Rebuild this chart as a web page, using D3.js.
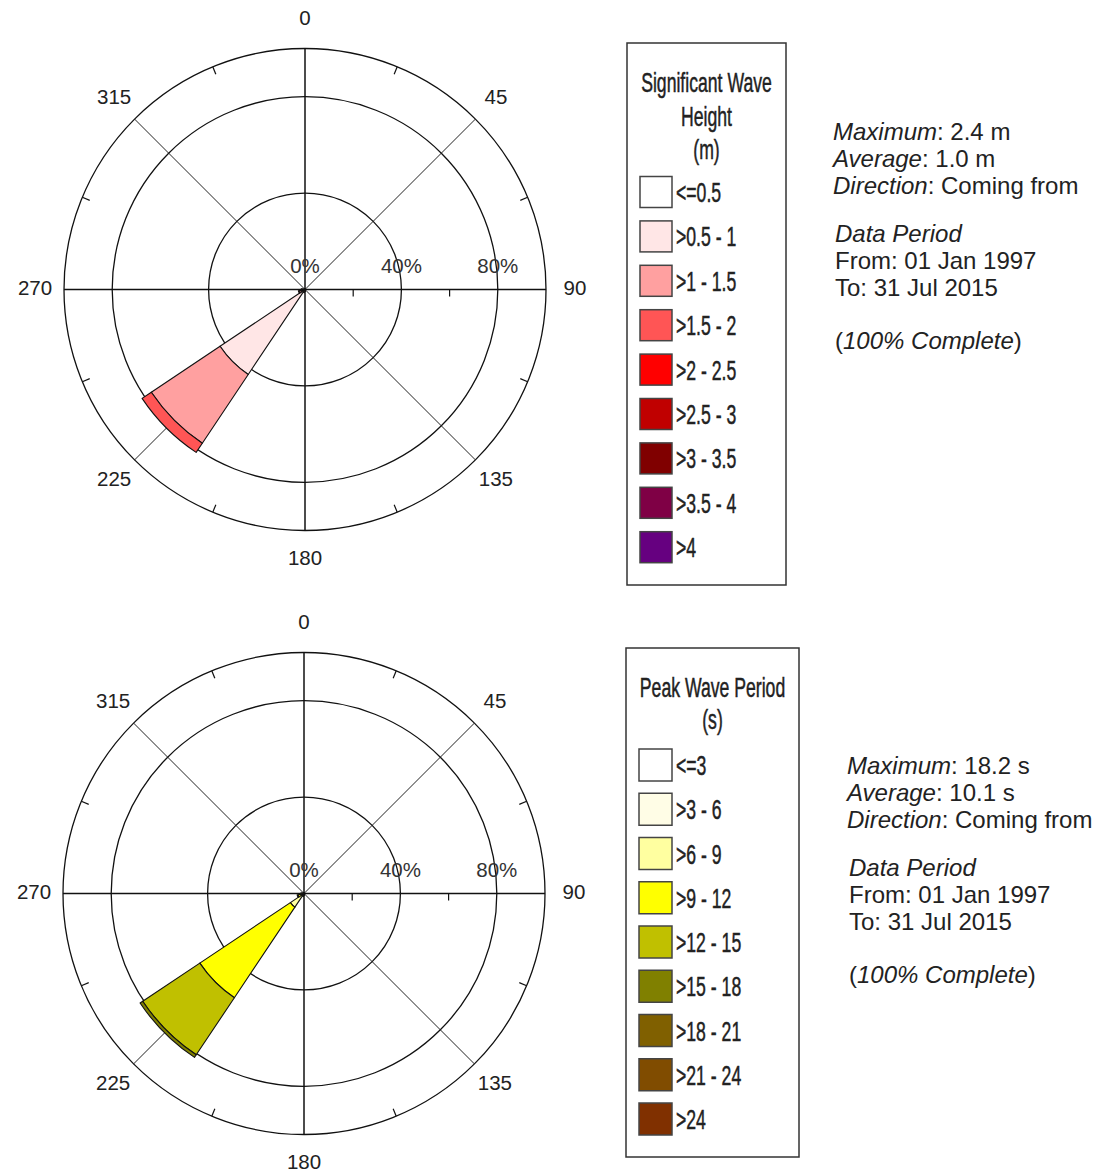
<!DOCTYPE html>
<html>
<head>
<meta charset="utf-8">
<script src="https://cdn.jsdelivr.net/npm/d3@7"></script>
<style>
  html, body { margin: 0; padding: 0; background: #fff; }
  svg { display: block; }
</style>
</head>
<body>
<svg id="chart" width="1099" height="1175"></svg>
<script>
// ---------------- DATA ----------------
const directions = [0, 22.5, 45, 67.5, 90, 112.5, 135, 157.5, 180, 202.5, 225, 247.5, 270, 292.5, 315, 337.5];
const angleLabels = [0, 45, 90, 135, 180, 225, 270, 315];
const ringLabels = [0, 40, 80];

// Significant wave height classes (percent of time per direction)
const hsClasses = ["<=0.5", ">0.5 - 1", ">1 - 1.5", ">1.5 - 2", ">2 - 2.5", ">2.5 - 3", ">3 - 3.5", ">3.5 - 4", ">4"];
const hsColors  = ["#ffffff", "#ffe6e6", "#ffa0a0", "#ff5555", "#ff0000", "#c00000", "#800000", "#7f0045", "#660080"];
const hsLe05   = [0.1, 0, 0, 0, 0.1, 0, 0.1, 0.1, 0.2, 0.2, 0.2, 0.3, 0.3, 0.2, 0.1, 0.1];
const hs05to1  = [0.2, 0, 0, 0, 0.2, 0, 0.2, 0.3, 0.5, 0.8, 42.2, 1.5, 1.0, 0.3, 0.2, 0.1];
const hs1to15  = [0, 0, 0, 0, 0, 0, 0, 0, 0.1, 0.4, 34.3, 0.8, 0.3, 0, 0, 0];
const hs15to2  = [0, 0, 0, 0, 0, 0, 0, 0, 0, 0, 4.6, 0.2, 0, 0, 0, 0];
const hs2to25  = [0, 0, 0, 0, 0, 0, 0, 0, 0, 0, 0, 0, 0, 0, 0, 0];
const hs25to3  = [0, 0, 0, 0, 0, 0, 0, 0, 0, 0, 0, 0, 0, 0, 0, 0];
const hs3to35  = [0, 0, 0, 0, 0, 0, 0, 0, 0, 0, 0, 0, 0, 0, 0, 0];
const hs35to4  = [0, 0, 0, 0, 0, 0, 0, 0, 0, 0, 0, 0, 0, 0, 0, 0];
const hsGt4    = [0, 0, 0, 0, 0, 0, 0, 0, 0, 0, 0, 0, 0, 0, 0, 0];

// Peak wave period classes
const tpClasses = ["<=3", ">3 - 6", ">6 - 9", ">9 - 12", ">12 - 15", ">15 - 18", ">18 - 21", ">21 - 24", ">24"];
const tpColors  = ["#ffffff", "#fffde6", "#ffffa0", "#ffff00", "#c0c000", "#808000", "#806000", "#804c00", "#803000"];
const tpLe3    = [0, 0, 0, 0, 0, 0, 0, 0, 0, 0, 0, 0, 0, 0, 0, 0];
const tp3to6   = [0.1, 0, 0, 0, 0.1, 0, 0.1, 0.2, 0.2, 0.2, 0.3, 0.3, 0.3, 0.2, 0.1, 0.1];
const tp6to9   = [0.1, 0, 0, 0, 0.2, 0, 0.2, 0.3, 0.4, 0.5, 6.5, 1.0, 0.8, 0.3, 0.2, 0.1];
const tp9to12  = [0, 0, 0, 0, 0, 0, 0, 0, 0.1, 0.6, 45.2, 1.2, 0.2, 0, 0, 0];
const tp12to15 = [0, 0, 0, 0, 0, 0, 0, 0, 0, 0, 28.5, 0.4, 0, 0, 0, 0];
const tp15to18 = [0, 0, 0, 0, 0, 0, 0, 0, 0, 0, 1.3, 0, 0, 0, 0, 0];
const tp18to21 = [0, 0, 0, 0, 0, 0, 0, 0, 0, 0, 0, 0, 0, 0, 0, 0];
const tp21to24 = [0, 0, 0, 0, 0, 0, 0, 0, 0, 0, 0, 0, 0, 0, 0, 0];
const tpGt24   = [0, 0, 0, 0, 0, 0, 0, 0, 0, 0, 0, 0, 0, 0, 0, 0];

const hsTitle = ["Significant Wave", "Height", "(m)"];
const tpTitle = ["Peak Wave Period", "(s)"];
const hsStats = [["Maximum", ": 2.4 m"], ["Average", ": 1.0 m"], ["Direction", ": Coming from"]];
const tpStats = [["Maximum", ": 18.2 s"], ["Average", ": 10.1 s"], ["Direction", ": Coming from"]];
const periodLines = ["From: 01 Jan 1997", "To: 31 Jul 2015"];

// ---------------- DRAWING ----------------
const svg = d3.select("#chart");
const R = 241;
const rScale = d3.scaleLinear().domain([0, 100]).range([0, R]);
const binWidth = 22.5;
const rad = d => d * Math.PI / 180;

function drawRose(cx, cy, seriesArrays, colors) {
  const g = svg.append("g").attr("transform", `translate(${cx},${cy})`);

  const rows = directions.map((d, i) => {
    const o = { dir: d };
    seriesArrays.forEach((arr, k) => { o["c" + k] = arr[i]; });
    return o;
  });
  const keys = seriesArrays.map((_, k) => "c" + k);
  const stacked = d3.stack().keys(keys)(rows);

  // grid circles
  [40, 80, 100].forEach(p => {
    g.append("circle").attr("r", rScale(p)).attr("fill", "none")
      .attr("stroke", "#111").attr("stroke-width", 1.3);
  });
  // main axes
  g.append("line").attr("x1", -R).attr("x2", R).attr("y1", 0).attr("y2", 0)
    .attr("stroke", "#111").attr("stroke-width", 1.5);
  g.append("line").attr("x1", 0).attr("x2", 0).attr("y1", -R).attr("y2", R)
    .attr("stroke", "#111").attr("stroke-width", 1.5);
  // diagonals
  [45, 135, 225, 315].forEach(a => {
    g.append("line").attr("x1", 0).attr("y1", 0)
      .attr("x2", R * Math.sin(rad(a))).attr("y2", -R * Math.cos(rad(a)))
      .attr("stroke", "#222").attr("stroke-width", 1);
  });
  // outer ticks at 22.5 offsets
  d3.range(22.5, 360, 45).forEach(a => {
    const s = Math.sin(rad(a)), c = Math.cos(rad(a));
    g.append("line")
      .attr("x1", (R - 8) * s).attr("y1", -(R - 8) * c)
      .attr("x2", R * s).attr("y2", -R * c)
      .attr("stroke", "#111").attr("stroke-width", 1.2);
  });
  // minor ticks on east axis
  [20, 60].forEach(p => {
    g.append("line").attr("x1", rScale(p)).attr("x2", rScale(p))
      .attr("y1", 0).attr("y2", 7).attr("stroke", "#111").attr("stroke-width", 1.2);
  });

  // wedges
  const arc = d3.arc();
  stacked.forEach((layer, k) => {
    g.append("g").selectAll("path")
      .data(layer.filter(d => d[1] - d[0] > 0))
      .join("path")
      .attr("d", d => arc({
        innerRadius: rScale(d[0]),
        outerRadius: rScale(d[1]),
        startAngle: rad(d.data.dir - binWidth / 2),
        endAngle: rad(d.data.dir + binWidth / 2)
      }))
      .attr("fill", colors[k])
      .attr("stroke", "#111")
      .attr("stroke-width", 1.1)
      .attr("stroke-linejoin", "round");
  });

  // ring labels
  g.selectAll("text.ring").data(ringLabels).join("text")
    .attr("class", "ring")
    .attr("x", d => rScale(d)).attr("y", -17)
    .attr("text-anchor", "middle")
    .attr("font-family", "Liberation Sans, Arial, sans-serif")
    .attr("font-size", 20.5).attr("fill", "#333")
    .text(d => d + "%");

  // angle labels
  g.selectAll("text.ang").data(angleLabels).join("text")
    .attr("class", "ang")
    .attr("x", d => 270 * Math.sin(rad(d)))
    .attr("y", d => -270 * Math.cos(rad(d)) - 2)
    .attr("dy", "0.36em")
    .attr("text-anchor", "middle")
    .attr("font-family", "Liberation Sans, Arial, sans-serif")
    .attr("font-size", 20.5).attr("fill", "#222")
    .text(d => d);
}

function drawLegend(box, titleLines, titleBaselines, classes, colors, sw) {
  svg.append("rect").attr("x", box.x).attr("y", box.y).attr("width", box.w).attr("height", box.h)
    .attr("fill", "#fff").attr("stroke", "#333").attr("stroke-width", 1.5);
  const cx = box.x + box.w / 2;
  titleLines.forEach((t, i) => {
    svg.append("text")
      .attr("transform", `translate(${cx},${titleBaselines[i]}) scale(0.63,1)`)
      .attr("text-anchor", "middle")
      .attr("font-family", "Liberation Sans, Arial, sans-serif")
      .attr("font-size", 28).attr("fill", "#222")
      .attr("stroke", "#222").attr("stroke-width", 0.5)
      .text(t);
  });
  classes.forEach((c, i) => {
    const y = sw.y0 + i * sw.step;
    svg.append("rect").attr("x", sw.x).attr("y", y).attr("width", sw.w).attr("height", sw.h)
      .attr("fill", colors[i]).attr("stroke", "#444").attr("stroke-width", 1.5);
    svg.append("text")
      .attr("transform", `translate(${sw.x + sw.w + 4},${y + sw.h / 2 + 10}) scale(0.63,1)`)
      .attr("font-family", "Liberation Sans, Arial, sans-serif")
      .attr("font-size", 28).attr("fill", "#222")
      .attr("stroke", "#222").attr("stroke-width", 0.5)
      .text(c);
  });
}

function drawStats(x, y0, stats) {
  const font = "Liberation Sans, Arial, sans-serif";
  const lh = 27;
  stats.forEach((s, i) => {
    const t = svg.append("text").attr("x", x).attr("y", y0 + i * lh)
      .attr("font-family", font).attr("font-size", 24).attr("fill", "#222");
    t.append("tspan").attr("font-style", "italic").text(s[0]);
    t.append("tspan").text(s[1]);
  });
  svg.append("text").attr("x", x + 2).attr("y", y0 + 102)
    .attr("font-family", font).attr("font-size", 24).attr("fill", "#222")
    .attr("font-style", "italic").text("Data Period");
  periodLines.forEach((p, i) => {
    svg.append("text").attr("x", x + 2).attr("y", y0 + 129 + i * lh)
      .attr("font-family", font).attr("font-size", 24).attr("fill", "#222").text(p);
  });
  const t = svg.append("text").attr("x", x + 2).attr("y", y0 + 209)
    .attr("font-family", font).attr("font-size", 24).attr("fill", "#222");
  t.append("tspan").text("(");
  t.append("tspan").attr("font-style", "italic").text("100% Complete");
  t.append("tspan").text(")");
}

// top rose
drawRose(305, 289.5,
  [hsLe05, hs05to1, hs1to15, hs15to2, hs2to25, hs25to3, hs3to35, hs35to4, hsGt4], hsColors);
drawLegend({ x: 627, y: 43, w: 159, h: 542 }, hsTitle, [92, 126, 159],
  hsClasses, hsColors, { x: 640, y0: 176.5, step: 44.4, w: 32, h: 31 });
drawStats(833, 140, hsStats);

// bottom rose
drawRose(304, 893.5,
  [tpLe3, tp3to6, tp6to9, tp9to12, tp12to15, tp15to18, tp18to21, tp21to24, tpGt24], tpColors);
drawLegend({ x: 626, y: 648, w: 173, h: 509 }, tpTitle, [697, 729],
  tpClasses, tpColors, { x: 639, y0: 749, step: 44.25, w: 33, h: 32 });
drawStats(847, 774, tpStats);
</script>
</body>
</html>
